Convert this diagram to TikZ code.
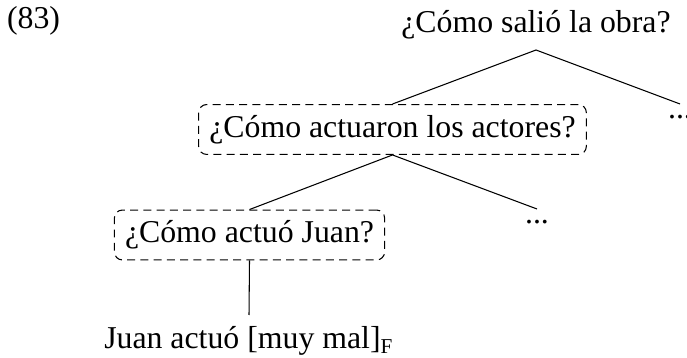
\documentclass[tikz,border=0pt,12pt]{standalone}
\usepackage{fontspec}
\setmainfont{Liberation Serif}

\begin{document}
\begin{tikzpicture}[x=0.3774pt, y=-0.3774pt,
	qbox/.style={draw, dash pattern=on 3pt off 2pt, rounded corners=3pt}]
	\useasboundingbox (0,0) rectangle (687,358);
	
	\node[anchor=base west, inner sep=0pt] (num) at (6.5,28.5) {(83)};
	
	\node[anchor=south] (root) at (536,50) {¿Cómo salió la obra?};
	\node[qbox] (actores) at (392.5,129.5) {¿Cómo actuaron los actores?};
	\node[anchor=north] (dotsA) at (680,104) {...};
	\node[qbox] (juan) at (249.5,235) {¿Cómo actuó Juan?};
	\node[anchor=north] (dotsB) at (537,209) {...};
	\node[anchor=north] (leaf) at (249,315) {Juan actuó [muy mal]\textsubscript{F}};
	
	\draw (root.south) -- (actores.north);
	\draw (root.south) -- (dotsA.north);
	\draw (actores.south) -- (juan.north);
	\draw (actores.south) -- (dotsB.north);
	\draw (juan.south) -- (leaf.north);
\end{tikzpicture}
\end{document}
